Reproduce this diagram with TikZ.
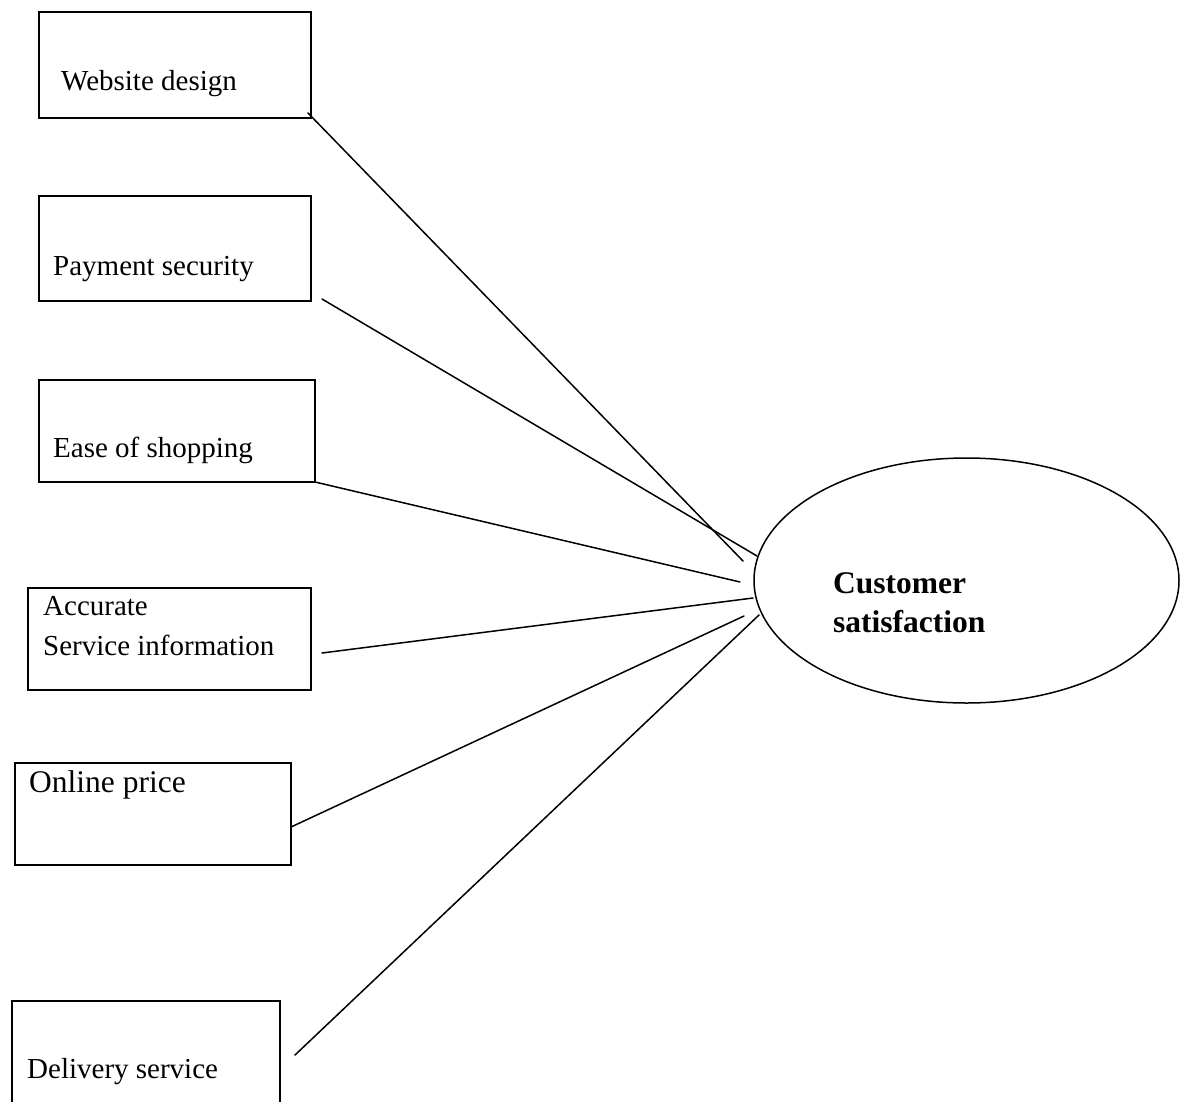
\documentclass[tikz,border=0pt]{standalone}
\usepackage{fontspec}
\setmainfont{Liberation Serif}
\usetikzlibrary{shapes.geometric}
\begin{document}
\begin{tikzpicture}[x=1pt,y=-1pt,
  box/.style={draw,line width=2pt,inner sep=0pt,rectangle},
  lbl/.style={anchor=base west,inner sep=0pt,font=\fontsize{29}{34}\selectfont},
  biglbl/.style={anchor=base west,inner sep=0pt,font=\fontsize{31.5}{37}\selectfont},
  boldlbl/.style={anchor=base west,inner sep=0pt,font=\fontsize{31.5}{37}\selectfont\bfseries},
  conn/.style={line width=1.5pt,line cap=round}]
\useasboundingbox (0,0) rectangle (1186,1101);
% boxes
\node[box,minimum width=272pt,minimum height=106pt] (b1) at (175,65) {};
\node[box,minimum width=272pt,minimum height=105pt] (b2) at (175,248.5) {};
\node[box,minimum width=276pt,minimum height=102pt] (b3) at (177,431) {};
\node[box,minimum width=283pt,minimum height=102pt] (b4) at (169.5,639) {};
\node[box,minimum width=276pt,minimum height=102pt] (b5) at (153,814) {};
\node[box,minimum width=268pt,minimum height=130pt] (b6) at (146,1066) {};
% labels
\node[lbl] (t1) at (61,90) {Website design};
\node[lbl] (t2) at (53,275) {Payment security};
\node[lbl] (t3) at (53,457) {Ease of shopping};
\node[lbl] (t4a) at (43,615) {Accurate};
\node[lbl] (t4b) at (43,655) {Service information};
\node[biglbl] (t5) at (29,792) {Online price};
\node[lbl] (t6) at (27,1078) {Delivery service};
% ellipse
\node[draw,ellipse,line width=1.5pt,inner sep=0pt,minimum width=425pt,minimum height=245pt] (cs) at (966.5,580.5) {};
\node[boldlbl] (cst1) at (833,593) {Customer};
\node[boldlbl] (cst2) at (833,632) {satisfaction};
% connector end points
\coordinate (s1) at (308,113);  \coordinate (e1) at (743,561);
\coordinate (s2) at (322,299);  \coordinate (e2) at (757,556);
\coordinate (s3) at (315,482);  \coordinate (e3) at (740,582);
\coordinate (s4) at (322,653);  \coordinate (e4) at (753,598);
\coordinate (s5) at (291,827);  \coordinate (e5) at (744,616);
\coordinate (s6) at (295,1055); \coordinate (e6) at (759,615);
\draw[conn] (s1) -- (e1);
\draw[conn] (s2) -- (e2);
\draw[conn] (s3) -- (e3);
\draw[conn] (s4) -- (e4);
\draw[conn] (s5) -- (e5);
\draw[conn] (s6) -- (e6);
\end{tikzpicture}
\end{document}
